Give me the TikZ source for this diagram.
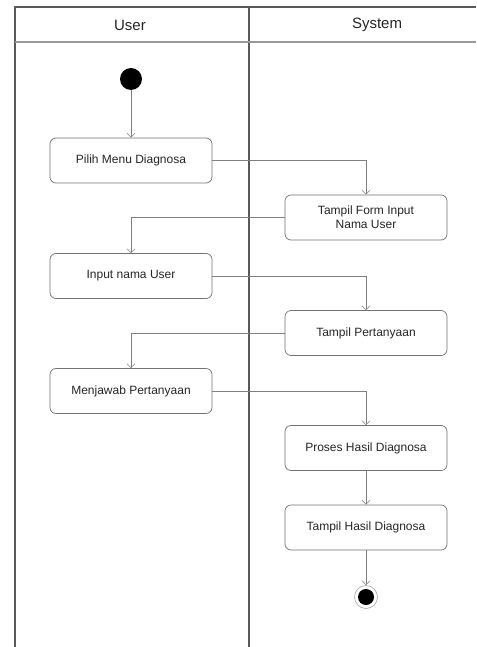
\documentclass[tikz,border=0pt]{standalone}
\usepackage{fontspec}
\setmainfont{Liberation Sans}
\usetikzlibrary{arrows.meta}
\begin{document}
\begin{tikzpicture}[x=1pt,y=-1pt,
  act/.style={draw=black!55, rounded corners=6pt, minimum width=162pt, minimum height=45pt, align=center, font=\fontsize{12}{14}\selectfont, text=black!85, line width=0.7pt},
  flow/.style={draw=black!50, line width=0.6pt, -{Straight Barb[length=4pt,width=8pt]}},
  lane/.style={draw=black!65, line width=1.3pt},
  hdr/.style={font=\fontsize{15}{18}\selectfont, text=black!85}]
\useasboundingbox (0,0) rectangle (476,647);
\fill[white] (0,0) rectangle (476,647);
\draw[lane] (476,7) -- (15,7) -- (15,647);
\draw[lane] (249,7) -- (249,647);
\draw[draw=black!40, line width=1.2pt] (15,42) -- (476,42);
\node[hdr] (huser) at (130,25) {User};
\node[hdr] (hsys) at (377,25) {System};
\node[circle, fill=black, minimum size=22pt, inner sep=0pt] (start) at (131,79) {};
\node[act] (a1) at (131,160.5) {Pilih Menu Diagnosa};
\node[act] (a2) at (366,217.5) {Tampil Form Input\\Nama User};
\node[act] (a3) at (131,276) {Input nama User};
\node[act] (a4) at (366,333) {Tampil Pertanyaan};
\node[act] (a5) at (131,391) {Menjawab Pertanyaan};
\node[act] (a6) at (366,448) {Proses Hasil Diagnosa};
\node[act] (a7) at (366,527.5) {Tampil Hasil Diagnosa};
\node[circle, draw=black!35, line width=0.6pt, minimum size=23pt, inner sep=0pt] (end) at (366,597) {};
\node[circle, fill=black, minimum size=16pt, inner sep=0pt] (endin) at (end) {};
\draw[flow] (start) -- (a1);
\draw[flow] (a1.east) -| (a2.north);
\draw[flow] (a2.west) -| (a3.north);
\draw[flow] (a3.east) -| (a4.north);
\draw[flow] (a4.west) -| (a5.north);
\draw[flow] (a5.east) -| (a6.north);
\draw[flow] (a6) -- (a7);
\draw[flow] (a7) -- (end);
\end{tikzpicture}
\end{document}
